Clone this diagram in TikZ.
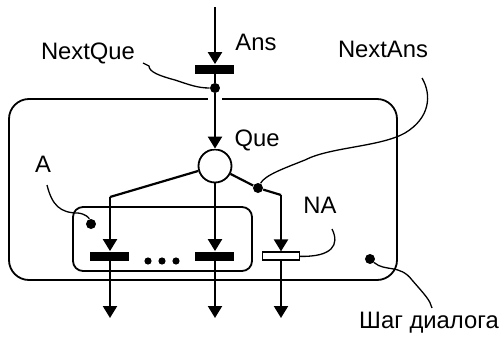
\documentclass[tikz,border=0pt]{standalone}
\usepackage{fontspec}
\setmainfont{Liberation Sans}
\usetikzlibrary{arrows.meta}

\begin{document}
\begin{tikzpicture}[x=0.5pt,y=-0.5pt,>={Triangle[length=6pt,width=7pt]},
  flow/.style={line width=1.1pt,->},
  bar/.style={fill=black,minimum width=19.5pt,minimum height=4.5pt,inner sep=0pt},
  nabox/.style={draw,fill=white,line width=0.6pt,minimum width=18.5pt,minimum height=4pt,inner sep=0pt},
  pin/.style={circle,fill=black,minimum size=5pt,inner sep=0pt},
  lead/.style={line width=0.65pt},
  lbl/.style={font=\fontsize{11.9}{14}\selectfont,inner sep=0pt}]
  \useasboundingbox (0,0) rectangle (500,338);
  % dialogue step frame and answer group
  \draw[line width=0.9pt,rounded corners=10pt] (9,99) rectangle (397,280);
  \draw[line width=0.9pt,rounded corners=5pt] (73,207) rectangle (252,271);
  % nodes
  \coordinate (top) at (215,7);
  \node[bar] (ansbar) at (215,69) {};
  \node[pin] (nqdot) at (215,88) {};
  \node[circle,draw,line width=0.9pt,minimum size=16.5pt,inner sep=0pt] (que) at (215,166) {};
  \coordinate (lc) at (110,197);
  \coordinate (rc) at (281,195);
  \node[pin] (nadot) at (258,188) {};
  \node[bar] (bar1) at (110,256) {};
  \node[bar] (bar2) at (215,256) {};
  \node[nabox] (nabar) at (281,256) {};
  \node[pin] (adot) at (91,224) {};
  \node[pin] (stepdot) at (370,259) {};
  \coordinate (out1) at (110,318);
  \coordinate (out2) at (215,318);
  \coordinate (out3) at (281,318);
  \foreach \x in {148,162,176} \fill (\x,261) circle (1.8pt);
  % flow
  \draw[flow] (top) -- (ansbar);
  \draw[line width=1.1pt] (ansbar) -- (nqdot);
  \draw[flow,preaction={draw=white,line width=7pt,-}] (nqdot) -- (que);
  \draw[line width=1.1pt] (que) -- (lc);
  \draw[flow] (lc) -- (bar1);
  \draw[flow] (que) -- (bar2);
  \draw[line width=1.1pt] (que) -- (nadot) -- (rc);
  \draw[flow] (rc) -- (nabar);
  \draw[flow] (bar1) -- (out1);
  \draw[flow] (bar2) -- (out2);
  \draw[flow] (nabar) -- (out3);
  % labels
  \node[lbl] (ans) at (256,42) {Ans};
  \node[lbl] (quel) at (257,140) {Que};
  \node[lbl] (nextque) at (88,53) {NextQue};
  \node[lbl] (nextans) at (383,49) {NextAns};
  \node[lbl] (al) at (43,164) {A};
  \node[lbl] (nal) at (320,205) {NA};
  \node[lbl] (stepl) at (429,323) {Шаг диалога};
  % leaders
  \coordinate (nqs) at (143,63);
  \coordinate (nas) at (422,78);
  \coordinate (as) at (47,185);
  \coordinate (nls) at (332,229);
  \coordinate (ste) at (432,308);
  \draw[lead] (nqs) -- (149,66) .. controls (149,72) and (160,76) .. (175,80) .. controls (190,85) and (198,88) .. (nqdot);
  \draw[lead] (nas) .. controls (432,95) and (430,118) .. (405,133) .. controls (380,147) and (330,147) .. (305,160) .. controls (285,168) and (265,175) .. (nadot);
  \draw[lead] (as) .. controls (52,205) and (60,213) .. (78,213) .. controls (86,214) and (89,218) .. (adot);
  \draw[lead] (nls) .. controls (340,245) and (332,257) .. (nabar);
  \draw[lead] (stepdot) .. controls (385,272) and (400,264) .. (412,280) .. controls (425,295) and (430,300) .. (ste);
\end{tikzpicture}
\end{document}
